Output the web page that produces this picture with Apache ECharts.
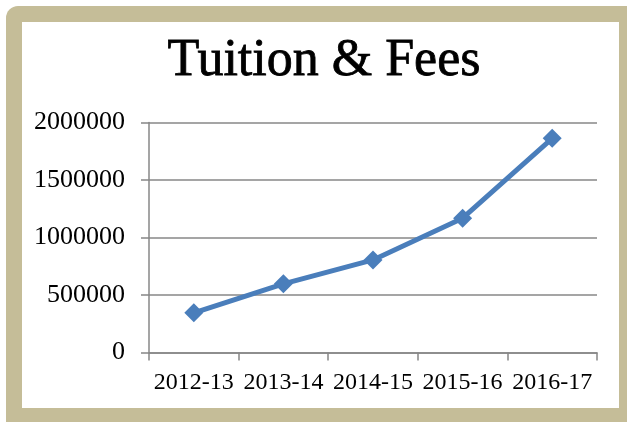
<!DOCTYPE html>
<html>
<head>
<meta charset="utf-8">
<script src="https://cdn.jsdelivr.net/npm/echarts@6/dist/echarts.min.js"></script>
<style>
  html, body { margin: 0; padding: 0; background: #fff; }
  #chart { width: 627px; height: 422px; }
</style>
</head>
<body>
<div id="chart"></div>
<script>
const years = ['2012-13', '2013-14', '2014-15', '2015-16', '2016-17'];
const tuition = [345000, 597000, 805000, 1168000, 1862000];
const yTicks = [0, 500000, 1000000, 1500000, 2000000];

const chart = echarts.init(document.getElementById('chart'));
const serif = '"Liberation Serif", "DejaVu Serif", serif';

const option = {
  animation: false,
  graphic: [
    // beige frame, rounded outer corner
    { type: 'rect', z: -10, shape: { x: 6, y: 6, width: 640, height: 440, r: 12 }, style: { fill: '#C5BD98' } },
    { type: 'rect', z: -9, shape: { x: 22, y: 22, width: 597, height: 386 }, style: { fill: '#fff' } }
  ],
  title: {
    text: 'Tuition & Fees',
    left: 319,
    textAlign: 'center',
    top: 30,
    textStyle: {
      fontFamily: serif, fontSize: 52, fontWeight: 'normal', color: '#000',
      textBorderColor: '#000', textBorderWidth: 0.8
    }
  },
  grid: { left: 149, top: 122.5, right: 30, bottom: 69.5 },
  xAxis: {
    type: 'category',
    data: years,
    boundaryGap: true,
    axisLine: { lineStyle: { color: '#878787', width: 1.5 } },
    axisTick: { show: true, length: 8, interval: 0, lineStyle: { color: '#878787', width: 1.5 } },
    axisLabel: { margin: 18, interval: 0, fontFamily: serif, fontSize: 24, color: '#000' }
  },
  yAxis: {
    type: 'value',
    min: 0,
    max: yTicks[yTicks.length - 1],
    interval: 500000,
    axisLine: { show: true, lineStyle: { color: '#878787', width: 1.5 } },
    axisTick: { show: true, length: 8, lineStyle: { color: '#878787', width: 1.5 } },
    splitLine: { lineStyle: { color: '#878787', width: 1.5 } },
    axisLabel: { margin: 24, fontFamily: serif, fontSize: 26, color: '#000', formatter: v => String(v) }
  },
  series: [{
    type: 'line',
    data: tuition,
    symbol: 'diamond',
    symbolSize: 19,
    lineStyle: { color: '#4A7EBB', width: 5 },
    itemStyle: { color: '#4A7EBB' }
  }]
};

chart.setOption(option);
</script>
</body>
</html>
